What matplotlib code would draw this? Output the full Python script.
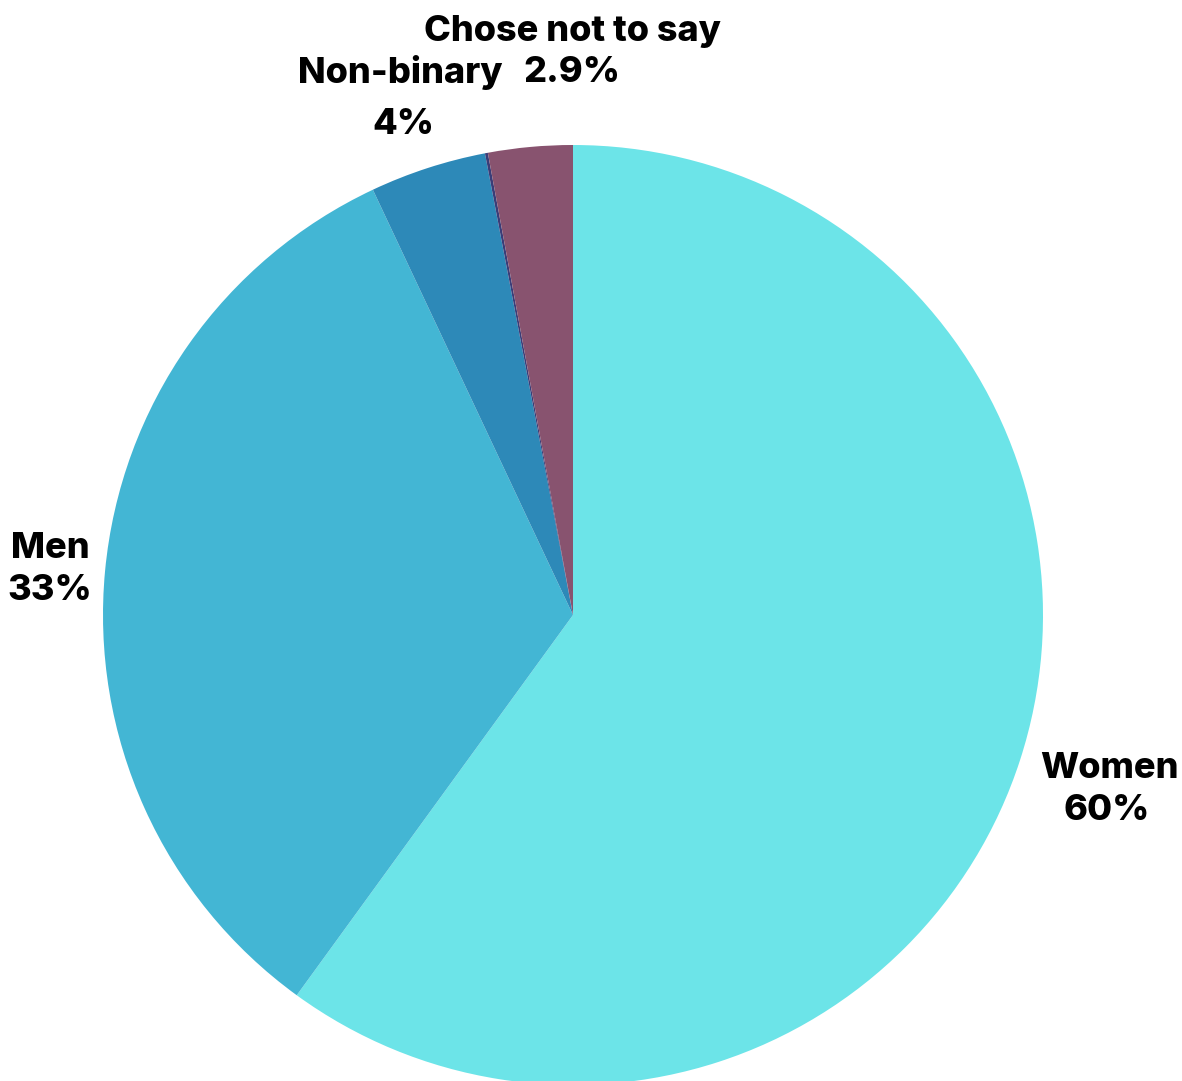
import matplotlib.pyplot as plt

# gender split (%)
labels = ['Women', 'Men', 'Non-binary', '', 'Chose not to say']
values = [60, 33, 4, 0.1, 2.9]
pct_text = ['60%', '33%', '4%', '', '2.9%']
colors = ['#6ce4e8', '#43b6d4', '#2d89b8', '#3a3d78', '#88536f']

W, H = 1182, 1081
fig = plt.figure(figsize=(W / 100, H / 100), dpi=100)
ax = fig.add_axes([0, 0, 1, 1])

ax.pie(values, colors=colors, startangle=90, counterclock=False,
       center=(573, H - 615), radius=470, frame=True,
       wedgeprops=dict(linewidth=0))

ax.set_xlim(0, W)
ax.set_ylim(0, H)
ax.axis('off')

# label positions in pixels (name line, percent line)
name_pos = [(1109, 768), (50, 548), (400, 73), None, (573, 32)]
pct_pos = [(1107, 811), (50, 591), (403, 124), None, (572, 72)]

fs = 26
for name, pct, p1, p2 in zip(labels, pct_text, name_pos, pct_pos):
    if p1 is None:
        continue
    ax.text(p1[0], H - p1[1], name, ha='center', va='center',
            fontsize=fs, fontweight='heavy', family='Inter')
    ax.text(p2[0], H - p2[1], pct, ha='center', va='center',
            fontsize=fs, fontweight='heavy', family='Inter')

fig.savefig('out.png', dpi=100)
